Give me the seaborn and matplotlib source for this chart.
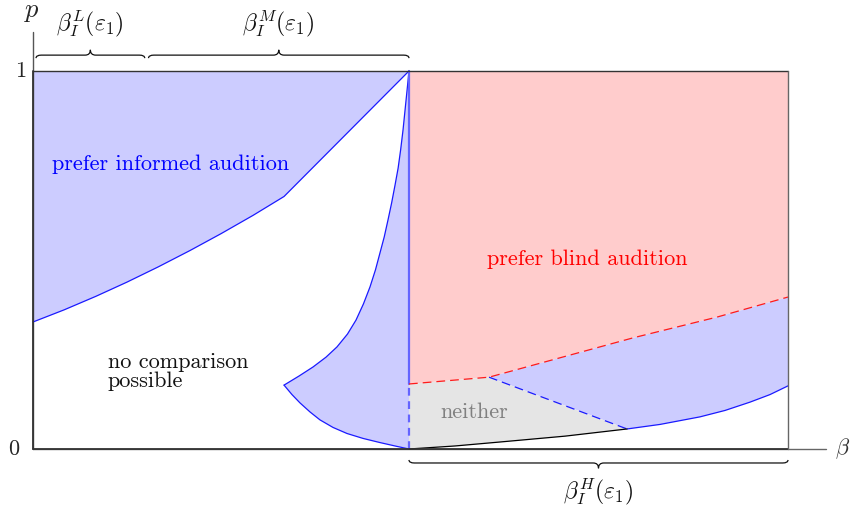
import matplotlib
matplotlib.use("Agg")
import matplotlib.pyplot as plt
from matplotlib.path import Path
from matplotlib.patches import PathPatch
import seaborn as sns
import pandas as pd

# ---- region boundaries (beta on the horizontal axis, p on the vertical) ----
beta_mid = 4.98
beta_max = 10.0

# lower edge of the "prefer informed audition" region (left part)
informed_beta = [0.000, 0.411, 0.834, 1.245, 1.656, 2.079, 2.490, 2.914, 3.325, 4.98]
informed_p    = [0.336, 0.368, 0.404, 0.4415, 0.4815, 0.525, 0.5696, 0.618, 0.668, 1.000]

# cusp region next to beta_mid: upper and lower arcs
cusp_up_beta = [3.325, 3.523, 3.709, 3.881, 4.026, 4.165, 4.278, 4.377, 4.464, 4.536,
                4.596, 4.652, 4.702, 4.750, 4.795, 4.836, 4.869, 4.901, 4.928, 4.955, 4.980]
cusp_up_p    = [0.169, 0.193, 0.217, 0.243, 0.270, 0.304, 0.341, 0.384, 0.429, 0.474,
                0.519, 0.561, 0.606, 0.651, 0.698, 0.743, 0.791, 0.844, 0.897, 0.950, 1.000]
cusp_lo_beta = [3.325, 3.430, 3.536, 3.669, 3.801, 3.974, 4.159, 4.371, 4.596, 4.795, 4.980]
cusp_lo_p    = [0.169, 0.144, 0.122, 0.098, 0.077, 0.057, 0.041, 0.028, 0.017, 0.008, 0.000]

# lower edge of "prefer blind audition"
blind_beta = [4.98, 6.040, 7.947, 9.060, 10.0]
blind_p    = [0.172, 0.190, 0.294, 0.349, 0.402]

# dashed blue separator and the solid blue edge on the right
sep_beta = [6.040, 7.868]
sep_p    = [0.190, 0.053]
right_lo_beta = [7.868, 8.305, 8.834, 9.166, 9.497, 9.762, 10.0]
right_lo_p    = [0.053, 0.065, 0.085, 0.102, 0.124, 0.144, 0.167]

# black edge under the "neither" region
neither_lo_beta = [4.98, 5.589, 6.185, 7.046, 7.868]
neither_lo_p    = [0.000, 0.008, 0.0185, 0.034, 0.053]

# braces: (start, end) in beta and their labels
brace_top = [(0.04, 1.48), (1.53, 4.98)]
brace_top_labels = [r"$\beta_I^L(\varepsilon_1)$", r"$\beta_I^M(\varepsilon_1)$"]
brace_bottom = [(4.98, 10.0)]
brace_bottom_labels = [r"$\beta_I^H(\varepsilon_1)$"]

# ---- styling ----
sns.set_theme(style="white")
plt.rcParams["font.family"] = ["cmr10", "DejaVu Serif"]
plt.rcParams["mathtext.fontset"] = "cm"
plt.rcParams["axes.unicode_minus"] = False

BLUE_FILL = "#ccccff"
RED_FILL = "#ffcccc"
GRAY_FILL = "#e5e5e5"
BLUE = "#1a1aff"
MIDBLUE = "#6464ff"
RED = "#ff1a1a"

fig = plt.figure(figsize=(8.51, 5.13), dpi=100)
ax = fig.add_axes([0, 0, 1, 1])
px_b, px_p = 75.5, 378.0
ax.set_xlim(-33 / px_b, (851 - 33) / px_b)
ax.set_ylim(-(513 - 449) / px_p, 449 / px_p)
ax.axis("off")

# ---- filled regions ----
# prefer informed (upper left)
ax.fill([0, beta_mid] + informed_beta[::-1][1:], [1, 1] + informed_p[::-1][1:],
        color=BLUE_FILL, lw=0, zorder=1)
# cusp region
ax.fill(cusp_up_beta + cusp_lo_beta[::-1], cusp_up_p + cusp_lo_p[::-1],
        color=BLUE_FILL, lw=0, zorder=1)
# prefer blind (upper right)
ax.fill([beta_mid, beta_max] + blind_beta[::-1], [1, 1] + blind_p[::-1],
        color=RED_FILL, lw=0, zorder=1)
# informed again (lower right)
ax.fill(blind_beta[1:] + right_lo_beta[::-1] + sep_beta[::-1][1:],
        blind_p[1:] + right_lo_p[::-1] + sep_p[::-1][1:],
        color=BLUE_FILL, lw=0, zorder=1)
# neither
ax.fill(blind_beta[:2] + sep_beta[1:] + neither_lo_beta[::-1][1:],
        blind_p[:2] + sep_p[1:] + neither_lo_p[::-1][1:],
        color=GRAY_FILL, lw=0, zorder=1)


def curve(xs, ys, color, lw=0.9, ls="-", z=3):
    df = pd.DataFrame({"beta": xs, "p": ys})
    sns.lineplot(data=df, x="beta", y="p", sort=False, estimator=None, ax=ax,
                 color=color, linewidth=lw, linestyle=ls, zorder=z)


# ---- frame and axes ----
curve([0, (826 - 33) / px_b], [0, 0], "#666666", lw=1.0, z=2)
curve([0, 0], [0, (449 - 32) / px_p], "#555555", lw=1.0, z=2)
curve([0, beta_max], [0, 0], "#333333", lw=1.3, z=4)
curve([0, 0], [0, 1], "#333333", lw=1.3, z=4)
curve([0, beta_max], [1, 1], "#333333", lw=1.0, z=4)
curve([beta_max, beta_max], [0, 1], "#666666", lw=1.0, z=4)

# ---- boundary curves ----
curve(informed_beta, informed_p, BLUE)
curve(cusp_up_beta, cusp_up_p, BLUE)
curve(cusp_lo_beta, cusp_lo_p, BLUE)
curve([beta_mid, beta_mid], [blind_p[0], 1], MIDBLUE, lw=1.6)
curve([beta_mid, beta_mid], [0, blind_p[0]], MIDBLUE, lw=1.6, ls=(0, (3.5, 2.5)))
curve(blind_beta, blind_p, RED, ls=(0, (7, 4)))
curve(sep_beta, sep_p, BLUE, ls=(0, (7, 4)))
curve(right_lo_beta, right_lo_p, BLUE)
curve(neither_lo_beta, neither_lo_p, "black")


# ---- braces ----
def brace(x1, x2, y0, s, h1=0.008, h2=0.014, r=0.07):
    xm = 0.5 * (x1 + x2)
    verts = [(x1, y0 - s * h1), (x1, y0), (x1 + r, y0),
             (xm - r, y0), (xm, y0), (xm, y0 + s * h2),
             (xm, y0), (xm + r, y0),
             (x2 - r, y0), (x2, y0), (x2, y0 - s * h1)]
    codes = [Path.MOVETO, Path.CURVE3, Path.CURVE3,
             Path.LINETO, Path.CURVE3, Path.CURVE3,
             Path.CURVE3, Path.CURVE3,
             Path.LINETO, Path.CURVE3, Path.CURVE3]
    ax.add_patch(PathPatch(Path(verts, codes), fill=False, lw=0.9,
                           edgecolor="#111111", zorder=5))
    return xm


for (a, b), lab in zip(brace_top, brace_top_labels):
    xm = brace(a, b, 1.042, +1)
    ax.text(xm, 1.122, lab, fontsize=17, ha="center", va="center", color="#111111")
for (a, b), lab in zip(brace_bottom, brace_bottom_labels):
    xm = brace(a, b, -0.037, -1)
    ax.text(xm, -0.114, lab, fontsize=17, ha="center", va="center", color="#111111")

# ---- axis labels and ticks ----
ax.text(-0.01, 1.156, r"$p$", fontsize=19, ha="center", va="center")
ax.text((843 - 33) / px_b, 0.0, r"$\beta$", fontsize=16, ha="center", va="center", color="#333333")
ax.text(-0.17, 1.0, "1", fontsize=16, ha="center", va="center")
ax.text(-0.25, 0.0, "0", fontsize=16, ha="center", va="center")

# ---- region labels ----
ax.text(0.25, 0.754, "prefer informed audition", fontsize=16, color="#0000ff",
        ha="left", va="center", zorder=6)
ax.text(7.338, 0.503, "prefer blind audition", fontsize=16, color="#ff0000",
        ha="center", va="center", zorder=6)
ax.text(0.99, 0.204, "no comparison\npossible", fontsize=16, color="#111111",
        ha="left", va="center", linespacing=1.0, zorder=6)
ax.text(5.841, 0.098, "neither", fontsize=16, color="#808080",
        ha="center", va="center", zorder=6)

fig.savefig("out.png", dpi=100)
